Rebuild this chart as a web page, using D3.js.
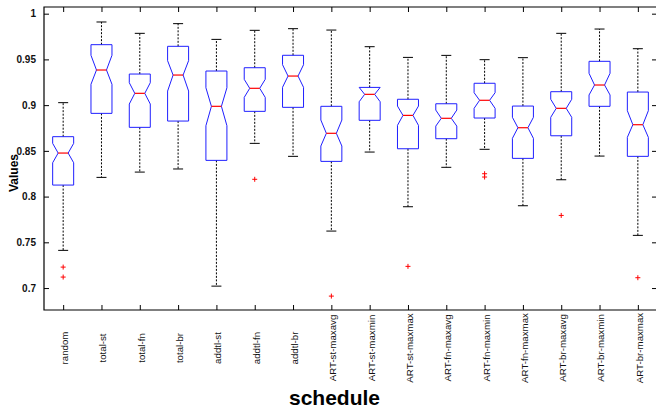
<!DOCTYPE html>
<html>
<head>
<meta charset="utf-8">
<script src="https://cdn.jsdelivr.net/npm/d3@7"></script>
<style>
  body { margin: 0; background: #fff; }
  svg { display: block; font-family: "Liberation Sans", Arial, sans-serif; }
</style>
</head>
<body>
<svg id="chart" width="656" height="412"></svg>
<script>
// schedules on the x axis
var schedules = ["random", "total-st", "total-fn", "total-br", "addtl-st", "addtl-fn", "addtl-br",
  "ART-st-maxavg", "ART-st-maxmin", "ART-st-maxmax", "ART-fn-maxavg", "ART-fn-maxmin",
  "ART-fn-maxmax", "ART-br-maxavg", "ART-br-maxmin", "ART-br-maxmax"];

// box statistics
var whiskerHi = [0.9027, 0.9909, 0.9785, 0.9891, 0.9719, 0.9818, 0.9836, 0.9821,
  0.9639, 0.9522, 0.9544, 0.9497, 0.9519, 0.9785, 0.9832, 0.9617];
var q3 = [0.8655, 0.9661, 0.9340, 0.9643, 0.9373, 0.9409, 0.9545, 0.8987,
  0.9194, 0.9064, 0.9015, 0.9239, 0.8990, 0.9147, 0.9479, 0.9143];
var notchHi = [0.8582, 0.9545, 0.9245, 0.9486, 0.9190, 0.9282, 0.9442, 0.8837,
  0.9194, 0.8990, 0.8946, 0.9136, 0.8867, 0.9064, 0.9348, 0.8939];
var medians = [0.8476, 0.9384, 0.9129, 0.9329, 0.8987, 0.9184, 0.9318, 0.8692,
  0.9118, 0.8888, 0.8856, 0.9053, 0.8753, 0.8965, 0.9220, 0.8786];
var notchLo = [0.8370, 0.9228, 0.9012, 0.9154, 0.8775, 0.9085, 0.9195, 0.8553,
  0.9037, 0.8779, 0.8771, 0.8965, 0.8637, 0.8867, 0.9111, 0.8648];
var q1 = [0.8126, 0.8910, 0.8757, 0.8826, 0.8396, 0.8932, 0.8976, 0.8385,
  0.8834, 0.8523, 0.8633, 0.8859, 0.8418, 0.8665, 0.8987, 0.8440];
var whiskerLo = [0.7412, 0.8210, 0.8268, 0.8302, 0.7021, 0.8582, 0.8440, 0.7623,
  0.8487, 0.7889, 0.8320, 0.8517, 0.7900, 0.8184, 0.8443, 0.7576];

// outliers: schedule index and value
var outlierIdx = [0, 0, 5, 7, 9, 11, 11, 13, 15];
var outlierVal = [0.7229, 0.7120, 0.8189, 0.6912, 0.7237, 0.8250, 0.8214, 0.7794, 0.7113];

var yTicks = [0.7, 0.75, 0.8, 0.85, 0.9, 0.95, 1];
var yTickLabels = ["0.7", "0.75", "0.8", "0.85", "0.9", "0.95", "1"];

var plotLeft = 44, plotRight = 657, plotTop = 7, plotBottom = 310;
var boxW = 21, notchW = 10, capW = 10, tickLen = 5;

var svg = d3.select("#chart");

var xScale = d3.scalePoint()
  .domain(schedules)
  .range([plotLeft, plotRight])
  .padding(0.5);

var yScale = d3.scaleLinear()
  .domain([0.676, 1.0073])
  .range([plotBottom, plotTop]);

var boxes = schedules.map(function (s, i) {
  return { name: s, whi: whiskerHi[i], q3: q3[i], nhi: notchHi[i], med: medians[i],
           nlo: notchLo[i], q1: q1[i], wlo: whiskerLo[i] };
});

// frame
svg.append("path")
  .attr("d", "M" + plotLeft + "," + plotBottom + "V" + plotTop + "H" + plotRight +
    "V" + plotBottom + "Z")
  .attr("fill", "none").attr("stroke", "#000").attr("stroke-width", 1.2);

// y ticks (left and right, pointing inward)
var yAxisL = d3.axisLeft(yScale).tickValues(yTicks).tickSizeInner(-tickLen).tickSizeOuter(0)
  .tickPadding(8).tickFormat(function (d, i) { return yTickLabels[i]; });
var gy = svg.append("g").attr("transform", "translate(" + plotLeft + ",0)").call(yAxisL);
gy.select(".domain").remove();
gy.selectAll("text").attr("font-size", 10).attr("font-weight", "bold")
  .attr("font-family", "'Liberation Sans', Arial, sans-serif").attr("fill", "#111");

var yAxisR = d3.axisRight(yScale).tickValues(yTicks).tickSizeInner(-tickLen).tickSizeOuter(0)
  .tickFormat("");
var gyr = svg.append("g").attr("transform", "translate(" + plotRight + ",0)").call(yAxisR);
gyr.select(".domain").remove();

// x ticks (bottom and top)
var xAxisB = d3.axisBottom(xScale).tickSizeInner(-tickLen).tickSizeOuter(0).tickFormat("");
var gx = svg.append("g").attr("transform", "translate(0," + plotBottom + ")").call(xAxisB);
gx.select(".domain").remove();
var xAxisT = d3.axisTop(xScale).tickSizeInner(-tickLen).tickSizeOuter(0).tickFormat("");
var gxt = svg.append("g").attr("transform", "translate(0," + plotTop + ")").call(xAxisT);
gxt.select(".domain").remove();

// rotated category labels
svg.append("g").selectAll("text")
  .data(schedules)
  .enter().append("text")
  .attr("transform", function (d) {
    return "translate(" + (xScale(d) + 1.5) + ",348) rotate(-90)";
  })
  .attr("text-anchor", "middle")
  .attr("dy", "0.35em")
  .attr("font-size", 9.7)
  .attr("fill", "#111")
  .text(function (d) { return d; });

// axis titles
svg.append("text")
  .attr("transform", "translate(18,173) rotate(-90)")
  .attr("text-anchor", "middle")
  .attr("font-size", 12).attr("font-weight", "bold")
  .text("Values");

svg.append("text")
  .attr("x", 334.5).attr("y", 405)
  .attr("text-anchor", "middle")
  .attr("font-size", 21).attr("font-weight", "bold")
  .text("schedule");

// boxes
var g = svg.append("g").selectAll("g")
  .data(boxes)
  .enter().append("g")
  .attr("transform", function (d) { return "translate(" + xScale(d.name) + ",0)"; });

// whiskers
g.append("line")
  .attr("x1", 0).attr("x2", 0)
  .attr("y1", function (d) { return yScale(d.q3); })
  .attr("y2", function (d) { return yScale(d.whi); })
  .attr("stroke", "#000").attr("stroke-dasharray", "2,1.5");
g.append("line")
  .attr("x1", 0).attr("x2", 0)
  .attr("y1", function (d) { return yScale(d.q1); })
  .attr("y2", function (d) { return yScale(d.wlo); })
  .attr("stroke", "#000").attr("stroke-dasharray", "2,1.5");

// caps
g.append("line")
  .attr("x1", -capW / 2).attr("x2", capW / 2)
  .attr("y1", function (d) { return yScale(d.whi); })
  .attr("y2", function (d) { return yScale(d.whi); })
  .attr("stroke", "#000");
g.append("line")
  .attr("x1", -capW / 2).attr("x2", capW / 2)
  .attr("y1", function (d) { return yScale(d.wlo); })
  .attr("y2", function (d) { return yScale(d.wlo); })
  .attr("stroke", "#000");

// notched box
g.append("path")
  .attr("d", function (d) {
    var L = -boxW / 2, R = boxW / 2, l = -notchW / 2, r = notchW / 2;
    var pts = [[L, d.q3], [L, d.nhi], [l, d.med], [L, d.nlo], [L, d.q1],
               [R, d.q1], [R, d.nlo], [r, d.med], [R, d.nhi], [R, d.q3]];
    return "M" + pts.map(function (p) { return p[0] + "," + yScale(p[1]); }).join("L") + "Z";
  })
  .attr("fill", "none")
  .attr("stroke", "#1f1fff")
  .attr("stroke-width", 1);

// median
g.append("line")
  .attr("x1", -notchW / 2).attr("x2", notchW / 2)
  .attr("y1", function (d) { return yScale(d.med); })
  .attr("y2", function (d) { return yScale(d.med); })
  .attr("stroke", "#ff0000").attr("stroke-width", 1.2);

// outliers
svg.append("g").selectAll("path")
  .data(outlierVal)
  .enter().append("path")
  .attr("d", function (v, i) {
    var cx = xScale(schedules[outlierIdx[i]]), cy = yScale(v), s = 2.5;
    return "M" + (cx - s) + "," + cy + "H" + (cx + s) + "M" + cx + "," + (cy - s) + "V" + (cy + s);
  })
  .attr("stroke", "#ff0000").attr("stroke-width", 1);
</script>
</body>
</html>
